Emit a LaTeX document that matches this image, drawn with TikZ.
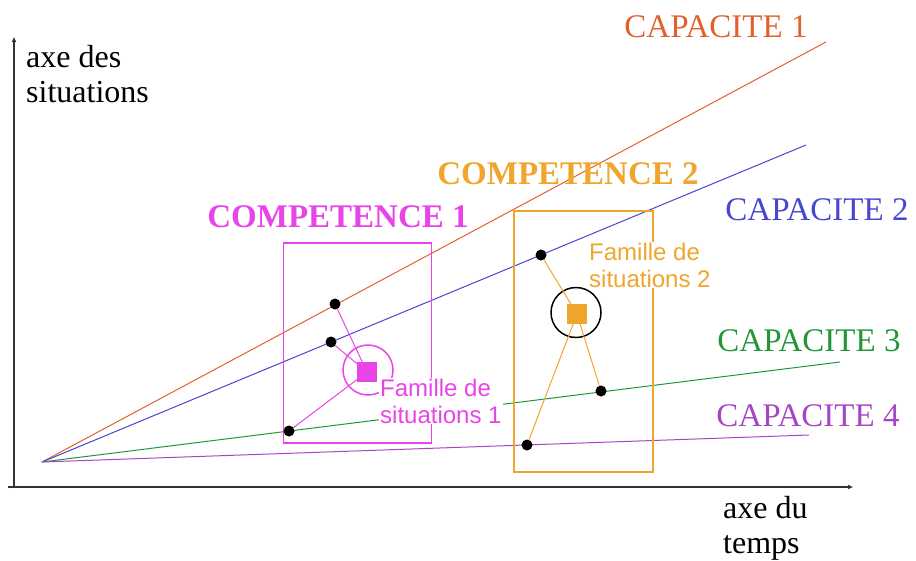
\documentclass[tikz,border=0pt]{standalone}
\usepackage{fontspec}
\setmainfont{Liberation Serif}
\newfontfamily\sansf{Liberation Sans}
\usetikzlibrary{arrows.meta}
\definecolor{cOne}{HTML}{E2602C}
\definecolor{cTwo}{HTML}{4646D2}
\definecolor{cThree}{HTML}{22973A}
\definecolor{cFour}{HTML}{A646C6}
\definecolor{cMag}{HTML}{E845E8}
\definecolor{cOr}{HTML}{F0A52C}
\definecolor{cAxis}{HTML}{333333}
\tikzset{
  axisline/.style={draw=cAxis, line width=1.4pt, -{Triangle[length=5pt,width=4pt]}},
  capline/.style={line width=1pt},
  caplabel/.style={font=\fontsize{33}{36}\selectfont, inner sep=0pt},
  complabel/.style={font=\bfseries\fontsize{33}{36}\selectfont, inner sep=0pt},
  axlabel/.style={font=\fontsize{32}{35}\selectfont, inner sep=0pt, align=left},
  famlabel/.style={font=\sansf\fontsize{24}{27}\selectfont, align=left, fill=white, inner sep=1pt},
  dotnode/.style={circle, fill=black, minimum size=11pt, inner sep=0pt},
  sqnode/.style={rectangle, minimum size=20pt, inner sep=0pt},
  ringnode/.style={circle, minimum size=50pt, inner sep=0pt, line width=1.5pt},
  boxnode/.style={rectangle, line width=1.4pt, inner sep=0pt},
}
\begin{document}
\begin{tikzpicture}[x=1pt,y=-1pt]
\useasboundingbox (0,0) rectangle (916,560);
% axes
\coordinate (xs) at (8,487);
\coordinate (xe) at (853,487);
\coordinate (ys) at (14,488);
\coordinate (ye) at (14,37);
\draw[axisline] (xs) -- (xe);
\draw[axisline] (ys) -- (ye);
\node[axlabel, anchor=north west] (ylab) at (26,45) {axe des\\situations};
\node[axlabel, anchor=north west] (xlab) at (723,496) {axe du\\temps};
% capacity lines
\coordinate (O) at (42,462);
\coordinate (E1) at (826,42);
\coordinate (E2) at (806,145);
\coordinate (E3) at (840,362);
\coordinate (E4) at (809,435);
\draw[capline, cOne] (O) -- (E1);
\draw[capline, cTwo] (O) -- (E2);
\draw[capline, cThree] (O) -- (E3);
\draw[capline, cFour] (O) -- (E4);
% competence boxes
\node[boxnode, draw=cMag, minimum width=148pt, minimum height=200pt] (box1) at (357.5,343) {};
\node[boxnode, draw=cOr, minimum width=139pt, minimum height=261pt] (box2) at (583.5,341.5) {};
% competence 1
\node[sqnode, fill=cMag] (sq1) at (367,372) {};
\node[ringnode, draw=cMag] (ring1) at (368,370) {};
\node[dotnode] (d11) at (335,304) {};
\node[dotnode] (d12) at (331,342) {};
\node[dotnode] (d13) at (289,431) {};
\draw[cMag, line width=1pt] (d11) -- (sq1.center);
\draw[cMag, line width=1pt] (d12) -- (sq1.center);
\draw[cMag, line width=1pt] (d13) -- (sq1.center);
\node[sqnode, fill=cMag] at (sq1) {};
% competence 2
\node[sqnode, fill=cOr] (sq2) at (577,314) {};
\node[ringnode, draw=black] (ring2) at (576,312.5) {};
\node[dotnode] (d21) at (541,255) {};
\node[dotnode] (d22) at (601,391) {};
\node[dotnode] (d23) at (527,445) {};
\draw[cOr, line width=1pt] (d21) -- (sq2.center);
\draw[cOr, line width=1pt] (d22) -- (sq2.center);
\draw[cOr, line width=1pt] (d23) -- (sq2.center);
\node[sqnode, fill=cOr] at (sq2) {};
% family labels
\node[famlabel, text=cMag, anchor=west] (fam1) at (379,401) {Famille de\\situations 1};
\node[famlabel, text=cOr, anchor=west] (fam2) at (588,265) {Famille de\\situations 2};
% titles
\node[complabel, text=cMag] (comp1) at (338,217) {COMPETENCE 1};
\node[complabel, text=cOr] (comp2) at (568,174) {COMPETENCE 2};
\node[caplabel, text=cOne] (l1) at (716,27) {CAPACITE 1};
\node[caplabel, text=cTwo] (l2) at (817,210) {CAPACITE 2};
\node[caplabel, text=cThree] (l3) at (809,341) {CAPACITE 3};
\node[caplabel, text=cFour] (l4) at (808,416) {CAPACITE 4};
\end{tikzpicture}
\end{document}
